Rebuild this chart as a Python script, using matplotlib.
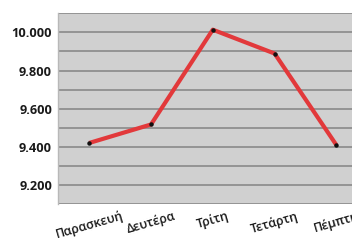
import matplotlib
matplotlib.use("Agg")
import matplotlib.pyplot as plt
from matplotlib.ticker import FuncFormatter, MultipleLocator

days = ["Παρασκευή", "Δευτέρα", "Τρίτη", "Τετάρτη", "Πέμπτη"]
values = [9420, 9517, 10014, 9889, 9409]

W, H = 352, 240
fig = plt.figure(figsize=(W / 100, H / 100), dpi=100)
fig.patch.set_facecolor("white")
ax = fig.add_axes([58.3 / W, 1 - 204 / H, 309 / W, (204 - 13.3) / H])
ax.set_facecolor("#d0d0d0")

x = list(range(len(days)))
ax.plot(x, values, color="#e2393b", lw=3.0, solid_capstyle="butt", zorder=3)
ax.plot(x, values, "o", color="#111111", ms=2.2, zorder=4)

ax.set_xlim(-0.5, len(days) - 0.5)
ax.set_ylim(9100, 10100)
ax.yaxis.set_major_locator(MultipleLocator(200))
ax.yaxis.set_minor_locator(MultipleLocator(100))
ax.grid(True, which="both", axis="y", color="#8a8a8a", lw=1.2, zorder=1)
ax.set_axisbelow(True)

def fmt(v, pos):
    s = f"{int(round(v)):,}".replace(",", ".")
    return s
ax.yaxis.set_major_formatter(FuncFormatter(fmt))

for s in ["top", "right", "bottom"]:
    ax.spines[s].set_visible(False)
ax.spines["left"].set_color("#b8b8b8")
ax.spines["left"].set_linewidth(1.0)

ax.tick_params(axis="y", which="both", length=0, pad=4.5)
ax.tick_params(axis="x", length=0, pad=4)
for lab in ax.get_yticklabels():
    lab.set_fontfamily(["Open Sans", "DejaVu Sans"])
    lab.set_fontweight("bold")
    lab.set_fontsize(9.2)
    lab.set_color("#1a1a1a")

ax.set_xticks(x)
ax.set_xticklabels(days, rotation=16, ha="center", fontsize=9,
                   family=["Open Sans", "DejaVu Sans"], fontweight="semibold",
                   color="#1a1a1a")

fig.savefig("out.png", dpi=100, facecolor="white")
